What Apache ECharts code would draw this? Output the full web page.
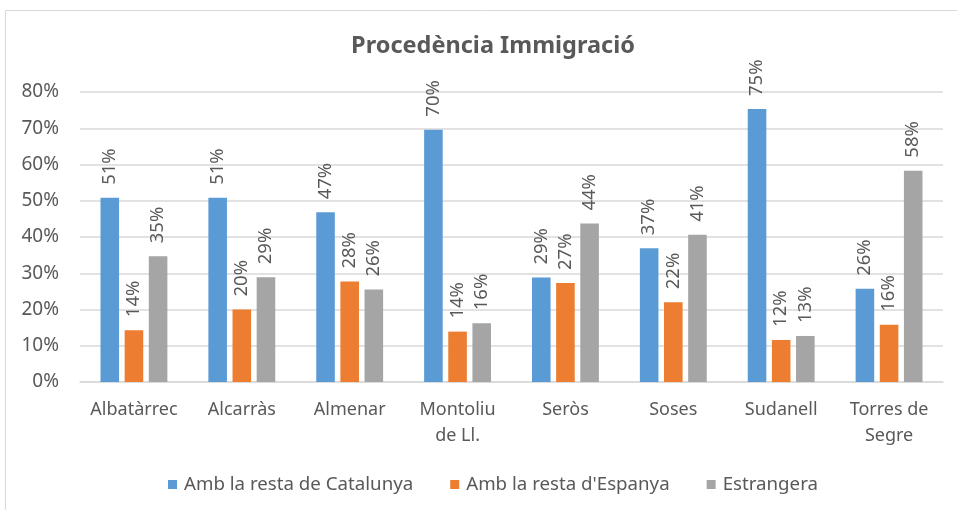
<!DOCTYPE html>
<html><head><meta charset="utf-8">
<script src="https://cdn.jsdelivr.net/npm/echarts@6/dist/echarts.min.js"></script>
<style>html,body{margin:0;padding:0;background:#fff}#c{width:957px;height:510px}</style>
</head><body><div id="c"></div>
<script>
const categories = ['Albatàrrec','Alcarràs','Almenar','Montoliu\nde Ll.','Seròs','Soses','Sudanell','Torres de\nSegre'];
const seriesNames = ['Amb la resta de Catalunya',"Amb la resta d'Espanya",'Estrangera'];
const catalunya = [0.508,0.508,0.468,0.696,0.288,0.369,0.753,0.257];
const espanya   = [0.143,0.200,0.277,0.139,0.273,0.220,0.116,0.158];
const estrangera= [0.347,0.289,0.255,0.162,0.437,0.406,0.127,0.583];
const yTicks = [0,0.1,0.2,0.3,0.4,0.5,0.6,0.7,0.8];
const colors = ['#5B9BD5','#ED7D31','#A5A5A5'];
const FONT = 'Noto Sans';
const TXT = '#595959';

const chart = echarts.init(document.getElementById('c'), null, {renderer:'canvas'});
const mk = (name, data, color) => ({
  name, type:'bar', data, barGap:'30%', barCategoryGap:'38%',
  itemStyle:{color},
  label:{show:true, position:'top', rotate:90, align:'left', verticalAlign:'middle', distance:13,
    color:TXT, fontFamily:FONT, fontSize:18.5,
    formatter:p=>Math.round(p.value*100)+'%'}
});
chart.setOption({
  animation:false,
  color:colors,
  graphic:[{type:'rect', shape:{x:5.5,y:10.5,width:1000,height:1000}, style:{fill:'none',stroke:'#d9d9d9',lineWidth:1}, silent:true}],
  title:{text:'Procedència Immigració', left:488, textAlign:'center', top:29,
    textStyle:{color:TXT, fontFamily:FONT, fontSize:23.5, fontWeight:'bold'}},
  grid:{left:80, right:14, top:92, bottom:128, containLabel:false},
  legend:{top:470, left:163, itemWidth:9, itemHeight:9, itemGap:37, icon:'rect',
    textStyle:{color:TXT, fontFamily:FONT, fontSize:18.7, padding:[0,0,0,2]}, data:seriesNames},
  xAxis:{type:'category', data:categories,
    axisLine:{lineStyle:{color:'#d9d9d9', width:1.5}}, axisTick:{show:false},
    axisLabel:{color:TXT, fontFamily:FONT, fontSize:18, lineHeight:26, margin:15, interval:0}},
  yAxis:{type:'value', min:0, max:0.8, interval:0.1,
    axisLine:{show:false}, axisTick:{show:false},
    splitLine:{lineStyle:{color:'#d9d9d9', width:1.5}},
    axisLabel:{color:TXT, fontFamily:FONT, fontSize:19, margin:21,
      formatter:v=>{const t=yTicks.find(x=>Math.abs(x-v)<1e-9);return Math.round((t!==undefined?t:v)*100)+'%';}}},
  series:[mk(seriesNames[0],catalunya,colors[0]),mk(seriesNames[1],espanya,colors[1]),mk(seriesNames[2],estrangera,colors[2])]
});
</script></body></html>
